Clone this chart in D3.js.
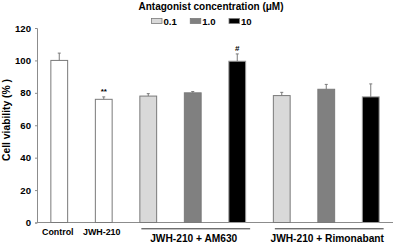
<!DOCTYPE html>
<html>
<head>
<meta charset="utf-8">
<script src="https://cdn.jsdelivr.net/npm/d3@7"></script>
<style>
  body { margin: 0; background: #fff; }
  svg { display: block; font-family: "Liberation Sans", Arial, sans-serif; font-weight: bold; }
</style>
</head>
<body>
<svg width="394" height="243"></svg>
<script>
const svg = d3.select("svg");
const margin = { top: 28, right: 1, bottom: 20, left: 37 };
const w = 394, h = 243;

// data
const categories = ["Control", "JWH-210", "AM630 0.1", "AM630 1.0", "AM630 10", "Rimonabant 0.1", "Rimonabant 1.0", "Rimonabant 10"];
const viability = [100, 76, 78, 80, 99.5, 78.3, 82.2, 77.5];
const errors = [4.5, 1.5, 1.5, 0.8, 4.5, 2, 3, 8];
const concentration = [null, null, "0.1", "1.0", "10", "0.1", "1.0", "10"];
const marks = ["", "**", "", "", "#", "", "", ""];
const legendKeys = ["0.1", "1.0", "10"];
const yTicks = [0, 20, 40, 60, 80, 100, 120];
const groups = [
  { label: "JWH-210 + AM630", from: "AM630 0.1", to: "AM630 10" },
  { label: "JWH-210 + Rimonabant", from: "Rimonabant 0.1", to: "Rimonabant 10" }
];
const singleLabels = [
  { label: "Control", cat: "Control", dx: -1.5 },
  { label: "JWH-210", cat: "JWH-210", dx: -2 }
];

const fillColors = { "0.1": "#d9d9d9", "1.0": "#808080", "10": "#000000" };
const axisColor = "#8c8c8c";

const x = d3.scaleBand()
  .domain(categories)
  .range([margin.left, w - margin.right])
  .paddingInner(0.6)
  .paddingOuter(0.3);

const y = d3.scaleLinear()
  .domain([0, 120])
  .range([h - margin.bottom - 0.5, margin.top]);

// y axis
const yAxis = svg.append("g")
  .attr("transform", `translate(${margin.left},0)`)
  .call(d3.axisLeft(y).tickValues(yTicks).tickSize(2).tickPadding(4));
yAxis.select(".domain").attr("stroke", axisColor);
yAxis.selectAll(".tick line").attr("stroke", axisColor);
yAxis.selectAll(".tick text")
  .attr("fill", "#000")
  .style("font-size", "9.6px")
  .style("font-weight", "bold")
  .style("font-family", "'Liberation Sans', Arial, sans-serif");

// baseline
svg.append("line")
  .attr("x1", margin.left).attr("x2", w - margin.right)
  .attr("y1", y(0)).attr("y2", y(0))
  .attr("stroke", axisColor);

// bars
const data = categories.map((c, i) => ({ cat: c, v: viability[i], e: errors[i], conc: concentration[i], mark: marks[i] }));

svg.append("g").selectAll("rect")
  .data(data)
  .join("rect")
  .attr("x", d => x(d.cat) + 0.5)
  .attr("y", d => y(d.v))
  .attr("width", x.bandwidth() - 1)
  .attr("height", d => y(0) - y(d.v))
  .attr("fill", d => d.conc ? fillColors[d.conc] : "#fff")
  .attr("stroke", d => d.conc === "10" ? "#999" : "#7a7a7a")
  .attr("stroke-width", 1);

// error bars
const eb = svg.append("g").selectAll("g")
  .data(data)
  .join("g")
  .attr("stroke", "#7a7a7a");
eb.append("line")
  .attr("x1", d => x(d.cat) + x.bandwidth() / 2)
  .attr("x2", d => x(d.cat) + x.bandwidth() / 2)
  .attr("y1", d => y(d.v))
  .attr("y2", d => y(d.v + d.e));
eb.append("line")
  .attr("x1", d => x(d.cat) + x.bandwidth() / 2 - 1.5)
  .attr("x2", d => x(d.cat) + x.bandwidth() / 2 + 1.5)
  .attr("y1", d => y(d.v + d.e))
  .attr("y2", d => y(d.v + d.e));

// significance marks
svg.append("g").selectAll("text")
  .data(data.filter(d => d.mark))
  .join("text")
  .attr("x", d => x(d.cat) + x.bandwidth() / 2)
  .attr("y", d => y(d.v + d.e) - 3)
  .attr("text-anchor", "middle")
  .style("font-size", "8px")
  .text(d => d.mark);

// category labels
svg.append("g").selectAll("text")
  .data(singleLabels)
  .join("text")
  .attr("x", d => x(d.cat) + x.bandwidth() / 2 + d.dx)
  .attr("y", 235)
  .attr("text-anchor", "middle")
  .style("font-size", "8.9px")
  .text(d => d.label);

const grp = svg.append("g").selectAll("g")
  .data(groups)
  .join("g");
grp.append("line")
  .attr("x1", d => x(d.from) + 2)
  .attr("x2", d => x(d.to) + x.bandwidth() + 4)
  .attr("y1", 228.8).attr("y2", 228.8)
  .attr("stroke", "#333").attr("stroke-width", 1);
grp.append("text")
  .attr("x", d => (x(d.from) + x(d.to) + x.bandwidth()) / 2 + 1)
  .attr("y", 241.5)
  .attr("text-anchor", "middle")
  .style("font-size", "10.2px")
  .text(d => d.label);

// y label
svg.append("text")
  .attr("transform", `translate(10,120) rotate(-90)`)
  .attr("text-anchor", "middle")
  .style("font-size", "10.3px")
  .text("Cell viability (% )");

// legend
svg.append("text")
  .attr("x", 211).attr("y", 9.5)
  .attr("text-anchor", "middle")
  .style("font-size", "10px")
  .text("Antagonist concentration (\u03bcM)");

const legendX = d3.scalePoint().domain(legendKeys).range([151.5, 229]);
const lg = svg.append("g").selectAll("g")
  .data(legendKeys)
  .join("g")
  .attr("transform", d => `translate(${legendX(d)},18.5)`);
lg.append("rect")
  .attr("width", 10.5).attr("height", 5)
  .attr("fill", d => fillColors[d])
  .attr("stroke", "#7a7a7a").attr("stroke-width", 0.8);
lg.append("text")
  .attr("x", 12).attr("y", 6.5)
  .style("font-size", "9.6px")
  .text(d => d);
</script>
</body>
</html>
